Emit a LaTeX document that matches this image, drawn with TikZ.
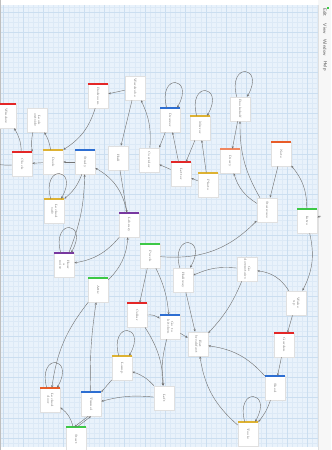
\documentclass[tikz,border=0pt]{standalone}
\usepackage{xcolor}
\usepackage{graphicx}
\usetikzlibrary{arrows.meta,positioning,calc}

\definecolor{canvas}{RGB}{233,242,251}
\definecolor{gridminor}{RGB}{220,233,246}
\definecolor{gridmajor}{RGB}{203,222,240}
\definecolor{tagred}{RGB}{228,38,38}
\definecolor{tagsalmon}{RGB}{240,135,95}
\definecolor{tagorange}{RGB}{232,92,40}
\definecolor{tagyellow}{RGB}{222,178,50}
\definecolor{taggreen}{RGB}{60,200,70}
\definecolor{tagblue}{RGB}{45,110,210}
\definecolor{tagpurple}{RGB}{120,55,160}
\newcommand{\ptitle}[1]{\rotatebox{-90}{\begin{tabular}{@{}c@{}}#1\end{tabular}}}

\begin{document}
\begin{tikzpicture}[x=0.025cm,y=0.025cm,
  psg/.style={draw=black!12,fill=white,minimum width=0.5cm,minimum height=0.6cm,
              inner sep=0.5pt,font=\fontsize{2.3}{2.7}\selectfont,text=black!60},
  lnk/.style={draw=black!55,line width=0.3pt,-{Stealth[length=1.8pt,width=1.5pt]}},
  menu/.style={rotate=-90,font=\sffamily\fontsize{3.3}{4}\selectfont,text=black!70,inner sep=0pt}]
  \clip (0,0) rectangle (331,450);
  % story map canvas
  \fill[canvas] (0,0) rectangle (331,450);
  \begin{scope}[shift={(2.7,12)}]
    \draw[gridminor,line width=0.15pt,step=5.075] (-3,-12) grid (316,436);
    \draw[gridmajor,line width=0.25pt,step=20.3] (-3,-12) grid (316,436);
  \end{scope}
  \fill[white] (0,445) rectangle (331,450);
  \fill[white] (0,0) rectangle (331,3);
  \fill[black!25] (0,0) rectangle (1.4,450);
  \fill[black!3] (318,0) rectangle (331,450);
  \draw[black!12,line width=0.3pt] (318,0) -- (318,445);
  \fill[taggreen] (327.5,441) rectangle (329,443.5);
  \node[menu] (edit) at (325,437.5) {Edit};
  \node[menu] (view) at (325,421) {View};
  \node[menu] (window-menu) at (325,402.5) {Window};
  \node[menu] (help) at (325,384) {Help};

  % passages
  \node[psg] (window) at (6,334) {\ptitle{Window}};
  \node[psg] (outside) at (37,330) {\ptitle{Look\\outside}};
  \node[psg] (bedroom) at (98,354) {\ptitle{Bedroom}};
  \node[psg] (wardrobe) at (135,362) {\ptitle{Wardrobe}};
  \node[psg] (drawer) at (170,330) {\ptitle{Drawer}};
  \node[psg] (mirror) at (200,322) {\ptitle{Mirror}};
  \node[psg] (shelf) at (240,341) {\ptitle{Bookshelf}};
  \node[psg] (diary) at (230,289) {\ptitle{Diary}};
  \node[psg] (note) at (281,296) {\ptitle{Note}};
  \node[psg] (letter) at (181,276) {\ptitle{Letter}};
  \node[psg] (photo) at (208,265) {\ptitle{Photo}};
  \node[psg] (stairs) at (267,240) {\ptitle{Staircase}};
  \node[psg] (intro) at (307,229) {\ptitle{Intro}};
  \node[psg] (godown) at (247,181) {\ptitle{Go\\downstairs}};
  \node[psg] (hallway) at (183,170) {\ptitle{Hallway}};
  \node[psg] (wake) at (296,147) {\ptitle{Wake\\up}};
  \node[psg] (kitchen) at (170,123) {\ptitle{Go to\\kitchen}};
  \node[psg] (breakfast) at (198,106) {\ptitle{Eat\\breakfast}};
  \node[psg] (garden) at (284,105) {\ptitle{Garden}};
  \node[psg] (shed) at (275,62) {\ptitle{Shed}};
  \node[psg] (tools) at (248,16) {\ptitle{Tools}};
  \node[psg] (left) at (164,52) {\ptitle{Left}};
  \node[psg] (cellar) at (137,135) {\ptitle{Cellar}};
  \node[psg] (lamp) at (122,82) {\ptitle{Lamp}};
  \node[psg] (door) at (50,50) {\ptitle{Locked\\door}};
  \node[psg] (tunnel) at (91,46) {\ptitle{Tunnel}};
  \node[psg] (start) at (76,11) {\ptitle{Start}};
  \node[psg] (attic) at (98,160) {\ptitle{Attic}};
  \node[psg] (clock) at (22,286) {\ptitle{Clock}};
  \node[psg] (desk) at (53,288) {\ptitle{Desk}};
  \node[psg] (study) at (85,288) {\ptitle{Study}};
  \node[psg] (hall) at (118,292) {\ptitle{Hall}};
  \node[psg] (corridor) at (149,290) {\ptitle{Corridor}};
  \node[psg] (safe) at (54,239) {\ptitle{Locked\\safe}};
  \node[psg] (library) at (129,225) {\ptitle{Library}};
  \node[psg] (noise) at (64,185) {\ptitle{Hear\\a\\noise}};
  \node[psg] (porch) at (150,194) {\ptitle{Porch}};
  \coordinate (offleft) at (-10,288);
  \coordinate (offright) at (321,234);

  % tag bars
  \foreach \p/\c in {window/tagred,bedroom/tagred,letter/tagred,garden/tagred,
      cellar/tagred,clock/tagred,diary/tagsalmon,note/tagorange,door/tagorange,
      mirror/tagyellow,photo/tagyellow,tools/tagyellow,lamp/tagyellow,desk/tagyellow,
      safe/tagyellow,intro/taggreen,start/taggreen,attic/taggreen,porch/taggreen,
      drawer/tagblue,kitchen/tagblue,shed/tagblue,tunnel/tagblue,study/tagblue,
      library/tagpurple,noise/tagpurple}
    \fill[\c] ([yshift=0.3pt]\p.north west) rectangle ([yshift=-1.2pt]\p.north east);

  % links
  \draw[lnk] (wardrobe) -- (bedroom);
  \draw[lnk] (bedroom) to[bend left=20] (desk.north east);
  \draw[lnk] (wardrobe) -- (hall);
  \draw[lnk] (corridor) to[bend right=15] (wardrobe);
  \draw[lnk] (drawer) -- (corridor.north east);
  \draw[lnk] (clock) to[bend right=15] (window);
  \draw[lnk] (outside) to[bend right=10] (clock.north east);
  \draw[lnk] (desk) to[bend right=10] (outside);
  \draw[lnk] (clock) to[bend left=10] (offleft);
  \draw[lnk] (desk) -- (clock);
  \draw[lnk] (study) -- (desk);
  \draw[lnk] (study) to[bend left=15] (safe.north east);
  \draw[lnk] (library) to[bend right=25] (study);
  \draw[lnk] (hall) -- (library);
  \draw[lnk] (noise) to[bend right=10] (study);
  \draw[lnk] (library) to[bend left=20] (noise);
  \draw[lnk] (attic) to[bend right=20] (library);
  \draw[lnk] (porch) to[bend right=25] (stairs);
  \draw[lnk] (porch) -- (cellar);
  \draw[lnk] (porch) to[bend left=10] (kitchen);
  \draw[lnk] (hallway) -- (breakfast);
  \draw[lnk] (godown) to[bend left=10] (breakfast);
  \draw[lnk] (cellar) to[bend left=15] (left);
  \draw[lnk] (cellar) to[bend left=20] (kitchen);
  \draw[lnk] (lamp) -- (tunnel);
  \draw[lnk] (left) to[bend right=15] (lamp);
  \draw[lnk] (left) to[bend right=10] (tunnel);
  \draw[lnk] ([xshift=-2pt]tunnel.south) -- ([xshift=-1pt]start.north);
  \draw[lnk] ([xshift=1pt]start.north) -- ([xshift=0pt]tunnel.south);
  \draw[lnk] (start) to[bend right=20] (door);
  \draw[lnk] (attic) to[bend right=15] (door);
  \draw[lnk] (tunnel) to[bend left=5] (attic);
  \draw[lnk] (kitchen) to[bend right=10] (left);
  \draw[lnk] (kitchen) -- (breakfast);
  \draw[lnk] (tools) to[bend left=20] (breakfast);
  \draw[lnk] (shed) to[bend right=20] (breakfast);
  \draw[lnk] (garden) -- (shed);
  \draw[lnk] (wake) -- (garden);
  \draw[lnk] (shed) to[bend left=10] (tools);
  \draw[lnk] (mirror) -- (letter);
  \draw[lnk] (photo) -- (mirror);
  \draw[lnk] (photo) -- (letter);
  \draw[lnk] (shelf) -- (diary);
  \draw[lnk] (stairs) to[bend left=15] (shelf);
  \draw[lnk] (stairs) to[bend left=20] (diary);
  \draw[lnk] (note) -- (stairs);
  \draw[lnk] (intro) to[bend right=20] (note);
  \draw[lnk] (intro) to[bend left=20] (wake);
  \draw[lnk] (wake) to[bend right=25] (godown);
  \draw[lnk] (godown) to[bend right=15] (hallway);
  \draw[lnk] (letter) -- (drawer);
  \draw[lnk] (letter) -- (corridor);
  \draw[lnk] (offright) -- (intro);
  % self links
  \foreach \p in {drawer,mirror,shelf,hallway,tools,lamp,door,safe,noise}
    \draw[lnk] (\p) to[out=105,in=60,looseness=9] (\p);
\end{tikzpicture}
\end{document}
